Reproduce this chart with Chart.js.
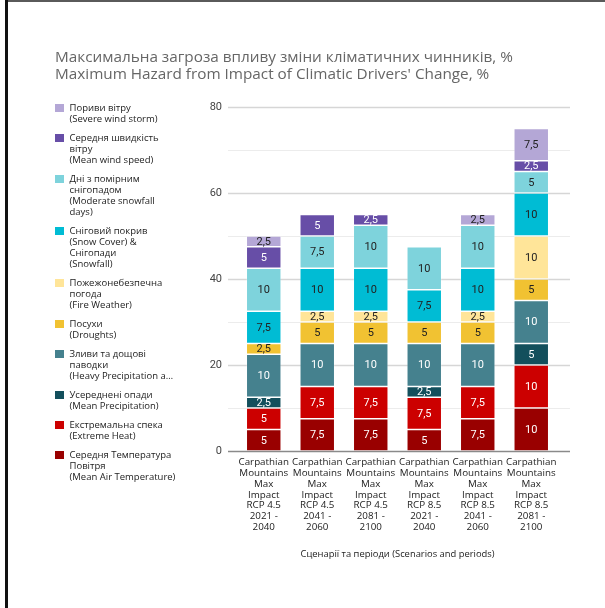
<!DOCTYPE html>
<html lang="uk">
<head>
<meta charset="utf-8">
<title>Максимальна загроза впливу зміни кліматичних чинників</title>
<script src="https://cdn.jsdelivr.net/npm/chart.js@4"></script>
<style>
  html, body { margin: 0; padding: 0; background: #fff; }
  #wrap { position: relative; width: 605px; height: 608px; overflow: hidden; }
  #chart { position: absolute; left: 0; top: 0; }
  .frame-top  { position: absolute; left: 5px; top: 0; width: 600px; height: 1.5px; background: #5a5a5a; }
  .frame-left { position: absolute; left: 5px; top: 0; width: 2.5px; height: 608px; background: #111; }
  #title {
    position: absolute; left: 55px; top: 48px;
    font: 15.3px "Open Sans", sans-serif; line-height: 17px; color: #666;
    white-space: nowrap;
  }
  #legend { position: absolute; left: 55px; top: 102px; width: 150px; }
  .lg-item { display: flex; align-items: flex-start; margin-bottom: 8px; }
  .lg-box  { width: 8.5px; height: 8.5px; margin-top: 1.5px; flex: none; }
  .lg-text {
    margin-left: 6px; font: 9.5px "Open Sans", sans-serif; line-height: 11px;
    color: #222; white-space: nowrap;
  }
</style>
</head>
<body>
<div id="wrap">
  <canvas id="chart" width="605" height="608"></canvas>
  <div class="frame-top"></div>
  <div class="frame-left"></div>
  <div id="title">Максимальна загроза впливу зміни кліматичних чинників, %<br>Maximum Hazard from Impact of Climatic Drivers' Change, %</div>
  <div id="legend"></div>
</div>
<script>
'use strict';

/* ── Data ───────────────────────────────────────────────────────────────── */
const categories = [
  ['Carpathian', 'Mountains', 'Max', 'Impact', 'RCP 4.5', '2021 -', '2040'],
  ['Carpathian', 'Mountains', 'Max', 'Impact', 'RCP 4.5', '2041 -', '2060'],
  ['Carpathian', 'Mountains', 'Max', 'Impact', 'RCP 4.5', '2081 -', '2100'],
  ['Carpathian', 'Mountains', 'Max', 'Impact', 'RCP 8.5', '2021 -', '2040'],
  ['Carpathian', 'Mountains', 'Max', 'Impact', 'RCP 8.5', '2041 -', '2060'],
  ['Carpathian', 'Mountains', 'Max', 'Impact', 'RCP 8.5', '2081 -', '2100']
];

// stacked from the bottom up
const meanAirTemp  = [5, 7.5, 7.5, 5, 7.5, 10];
const extremeHeat  = [5, 7.5, 7.5, 7.5, 7.5, 10];
const meanPrecip   = [2.5, 0, 0, 2.5, 0, 5];
const heavyPrecip  = [10, 10, 10, 10, 10, 10];
const droughts     = [2.5, 5, 5, 5, 5, 5];
const fireWeather  = [0, 2.5, 2.5, 0, 2.5, 10];
const snowCover    = [7.5, 10, 10, 7.5, 10, 10];
const moderateSnow = [10, 7.5, 10, 10, 10, 5];
const meanWind     = [5, 5, 2.5, 0, 0, 2.5];
const severeWind   = [2.5, 0, 0, 0, 2.5, 7.5];

const yTickLabels = [0, 20, 40, 60, 80];

const seriesLabels = [
  ['Середня Температура', 'Повітря', '(Mean Air Temperature)'],
  ['Екстремальна спека', '(Extreme Heat)'],
  ['Усереднені опади', '(Mean Precipitation)'],
  ['Зливи та дощові', 'паводки', '(Heavy Precipitation a…'],
  ['Посухи', '(Droughts)'],
  ['Пожежонебезпечна', 'погода', '(Fire Weather)'],
  ['Сніговий покрив', '(Snow Cover) &', 'Снігопади', '(Snowfall)'],
  ['Дні з помірним', 'снігопадом', '(Moderate snowfall', 'days)'],
  ['Середня швидкість', 'вітру', '(Mean wind speed)'],
  ['Пориви вітру', '(Severe wind storm)']
];

const seriesColors = ['#990000', '#cc0000', '#134f5c', '#45818e', '#f1c232',
                      '#ffe599', '#00bcd4', '#7ed3dc', '#674ea7', '#b4a7d6'];
const labelColors  = ['#fff', '#fff', '#fff', '#fff', '#222',
                      '#222', '#222', '#222', '#fff', '#222'];

const seriesValues = [meanAirTemp, extremeHeat, meanPrecip, heavyPrecip, droughts,
                      fireWeather, snowCover, moderateSnow, meanWind, severeWind];

/* ── Gridlines wider than the plot, major every 20, minor every 10 ───── */
const gridPlugin = {
  id: 'wideGrid',
  beforeDatasetsDraw(chart) {
    const { ctx, chartArea, scales: { y } } = chart;
    const x0 = chartArea.left - 9, x1 = chartArea.right + 12;
    ctx.save();
    for (let v = 10; v <= 80; v += 10) {
      const py = Math.round(y.getPixelForValue(v)) + 0.5;
      const major = v % 20 === 0;
      ctx.strokeStyle = major ? '#d6d6d6' : '#ececec';
      ctx.lineWidth = major ? 1.5 : 1;
      ctx.beginPath(); ctx.moveTo(x0, py); ctx.lineTo(x1, py); ctx.stroke();
    }
    ctx.restore();
  },
  afterDatasetsDraw(chart) {
    const { ctx, chartArea, scales: { y } } = chart;
    const py = y.getPixelForValue(0) + 0.5;
    ctx.save();
    ctx.strokeStyle = '#8a8a8a';
    ctx.lineWidth = 1.5;
    ctx.beginPath(); ctx.moveTo(chartArea.left - 9, py); ctx.lineTo(chartArea.right + 12, py); ctx.stroke();
    ctx.restore();
  }
};

/* ── Value labels centred in each segment ───────────────────────────── */
const segmentLabels = {
  id: 'segmentLabels',
  afterDatasetsDraw(chart) {
    const { ctx } = chart;
    ctx.save();
    ctx.font = '11px Roboto, sans-serif';
    ctx.textAlign = 'center';
    ctx.textBaseline = 'middle';
    chart.data.datasets.forEach((ds, i) => {
      const meta = chart.getDatasetMeta(i);
      meta.data.forEach((bar, j) => {
        const v = ds.data[j];
        if (v == null) return;
        ctx.fillStyle = labelColors[i];
        ctx.fillText(String(v).replace('.', ','), bar.x, (bar.y + bar.base) / 2 + 0.5);
      });
    });
    ctx.restore();
  }
};

/* ── Chart ───────────────────────────────────────────────────────────── */
const chart = new Chart(document.getElementById('chart'), {
  type: 'bar',
  data: {
    labels: categories,
    datasets: seriesValues.map((vals, i) => ({
      label: seriesLabels[i].join(' '),
      data: vals.map(v => (v === 0 ? null : v)),
      backgroundColor: seriesColors[i],
      borderColor: 'rgba(255,255,255,0.35)',
      borderWidth: 0.8,
      borderSkipped: false,
      categoryPercentage: 1,
      barPercentage: 0.655
    }))
  },
  options: {
    responsive: false,
    animation: false,
    layout: { padding: { left: 197, right: 47, top: 107, bottom: 0 } },
    plugins: {
      legend: { display: false },
      title: { display: false },
      tooltip: { enabled: false }
    },
    scales: {
      x: {
        stacked: true,
        grid: { display: false, drawTicks: false },
        border: { display: false },
        ticks: {
          color: '#222',
          font: { family: 'Open Sans', size: 9.8, lineHeight: 1.1 },
          padding: 6,
          maxRotation: 0,
          autoSkip: false
        },
        title: {
          display: true,
          text: 'Сценарії та періоди (Scenarios and periods)',
          color: '#222',
          font: { family: 'Open Sans', size: 9.4 },
          padding: { top: 0, bottom: 48 }
        },
        afterFit(scale) { scale.height = 157; }
      },
      y: {
        stacked: true,
        min: 0,
        max: 80,
        grid: { display: false, drawTicks: false },
        border: { display: false },
        afterBuildTicks(scale) { scale.ticks = yTickLabels.map(v => ({ value: v })); },
        ticks: {
          color: '#444',
          font: { family: 'Roboto', size: 11 },
          padding: 15
        },
        afterFit(scale) { scale.width = 40; }
      }
    }
  },
  plugins: [gridPlugin, segmentLabels]
});

/* ── HTML legend, top series first ───────────────────────────────────── */
(function buildLegend() {
  const box = document.getElementById('legend');
  chart.data.datasets.map((ds, i) => i).reverse().forEach(i => {
    const item = document.createElement('div');
    item.className = 'lg-item';
    const sw = document.createElement('span');
    sw.className = 'lg-box';
    sw.style.background = seriesColors[i];
    const txt = document.createElement('span');
    txt.className = 'lg-text';
    txt.innerHTML = seriesLabels[i].join('<br>');
    item.appendChild(sw);
    item.appendChild(txt);
    box.appendChild(item);
  });
})();
</script>
</body>
</html>
